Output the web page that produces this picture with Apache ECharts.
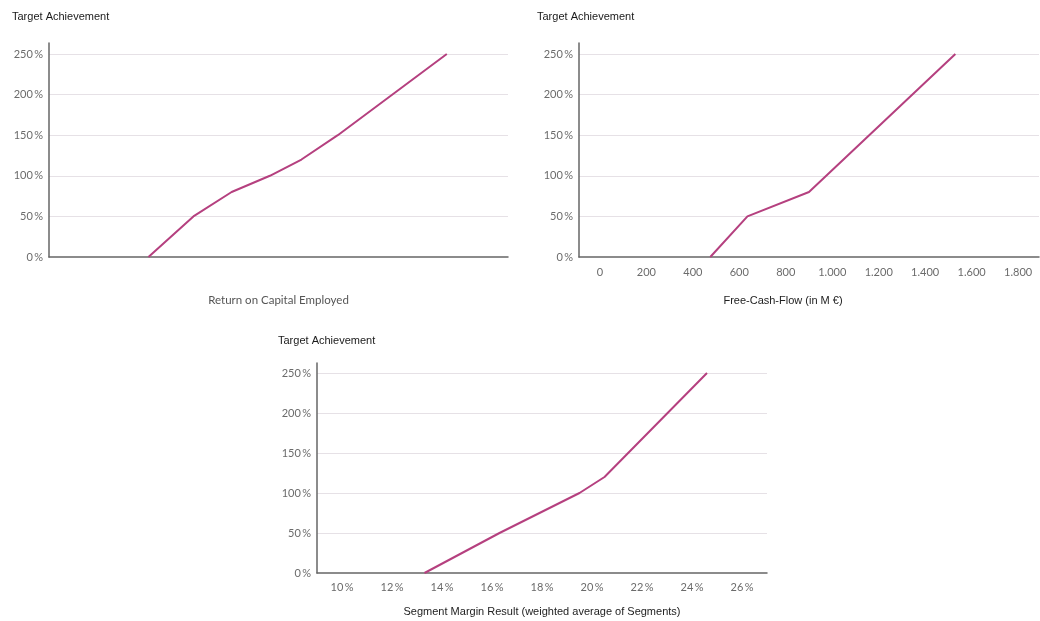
<!DOCTYPE html>
<html>
<head>
<meta charset="utf-8">
<script src="https://cdn.jsdelivr.net/npm/echarts@6/dist/echarts.min.js"></script>
<style>
  html, body { margin: 0; padding: 0; background: #fff; }
  #chart { width: 1040px; height: 621px; }
</style>
</head>
<body>
<div id="chart"></div>
<script>
// Return on Capital Employed (in %) -> target achievement (in %)
const roceX = [5.2, 7.55, 9.55, 11.55, 13.2, 15.1, 20.8];
const roceY = [0, 50, 80, 100, 120, 150, 250];

// Free-Cash-Flow (in M EUR) -> target achievement (in %)
const fcfX = [475, 635, 900, 1530];
const fcfY = [0, 50, 80, 250];
const fcfTicks = [0, 200, 400, 600, 800, 1000, 1200, 1400, 1600, 1800];

// Segment margin (weighted, in %) -> target achievement (in %)
const smX = [13.3, 16.3, 19.5, 20.5, 24.6];
const smY = [0, 50, 100, 120, 250];
const smTicks = [10, 12, 14, 16, 18, 20, 22, 24, 26];

const yTicks = [0, 50, 100, 150, 200, 250];

const LINE = '#b5407f';
const AXIS = '#666666';
const GRID = '#e6e1e6';
const LABEL = '#6b6b6b';

const pairs = (xs, ys) => xs.map((x, i) => [x, ys[i]]);
const pct = v => v + '\u2009%';
const thousands = v => String(v).replace(/\B(?=(\d{3})+(?!\d))/g, '.');

function yAxis(gridIndex, max) {
  return {
    type: 'value', gridIndex, min: 0, max, interval: 50,
    axisLine: { show: true, onZero: false, lineStyle: { color: AXIS, width: 1.5 } },
    axisTick: { show: false },
    axisLabel: {
      color: LABEL, fontFamily: 'Lato', fontSize: 11, margin: 6,
      formatter: v => (yTicks.includes(v) ? pct(v) : ''),
      showMaxLabel: false
    },
    splitLine: { show: true, showMaxLine: false, showMinLine: false, lineStyle: { color: GRID, width: 1 } }
  };
}

const titleStyle = { fontFamily: 'Liberation Sans', fontSize: 11, fontWeight: 'normal', color: '#1a1a1a' };

const option = {
  animation: false,
  backgroundColor: '#ffffff',
  title: [
    { text: 'Target Achievement', left: 12, top: 11, padding: 0, textStyle: titleStyle },
    { text: 'Target Achievement', left: 537, top: 11, padding: 0, textStyle: titleStyle },
    { text: 'Target Achievement', left: 278, top: 335, padding: 0, textStyle: titleStyle }
  ],
  grid: [
    { left: 49, top: 43, right: 532, bottom: 364 },
    { left: 579, top: 43, right: 1, bottom: 364 },
    { left: 317, top: 363, right: 273, bottom: 48 }
  ],
  xAxis: [
    {
      type: 'value', gridIndex: 0, min: 0, max: 24,
      name: 'Return on Capital Employed', nameLocation: 'middle', nameGap: 37,
      nameTextStyle: { fontFamily: 'Lato', fontSize: 11.5, color: '#555555' },
      axisLine: { show: true, onZero: false, lineStyle: { color: AXIS, width: 1.5 } },
      axisTick: { show: false }, axisLabel: { show: false }, splitLine: { show: false }
    },
    {
      type: 'value', gridIndex: 1, min: -90, max: 1890, interval: 10,
      name: 'Free-Cash-Flow (in M \u20ac)', nameLocation: 'middle', nameGap: 38,
      nameTextStyle: { fontFamily: 'Liberation Sans', fontSize: 11, color: '#222222', padding: [0, 52, 0, 0] },
      axisLine: { show: true, onZero: false, lineStyle: { color: AXIS, width: 1.5 } },
      axisTick: { show: false },
      axisLabel: {
        color: LABEL, fontFamily: 'Lato', fontSize: 11, margin: 10,
        formatter: v => (fcfTicks.includes(v) ? thousands(v) : ''),
        showMinLabel: false, showMaxLabel: false
      },
      splitLine: { show: false }
    },
    {
      type: 'value', gridIndex: 2, min: 9, max: 27, interval: 1,
      name: 'Segment Margin Result (weighted average of Segments)', nameLocation: 'middle', nameGap: 33,
      nameTextStyle: { fontFamily: 'Liberation Sans', fontSize: 11, color: '#222222' },
      axisLine: { show: true, onZero: false, lineStyle: { color: AXIS, width: 1.5 } },
      axisTick: { show: false },
      axisLabel: {
        color: LABEL, fontFamily: 'Lato', fontSize: 11, margin: 9,
        formatter: v => (smTicks.includes(v) ? pct(v) : ''),
        showMinLabel: false, showMaxLabel: false
      },
      splitLine: { show: false }
    }
  ],
  yAxis: [yAxis(0, 263.5), yAxis(1, 263.5), yAxis(2, 262.5)],
  series: [
    { type: 'line', xAxisIndex: 0, yAxisIndex: 0, data: pairs(roceX, roceY), showSymbol: false, lineStyle: { color: LINE, width: 2 } },
    { type: 'line', xAxisIndex: 1, yAxisIndex: 1, data: pairs(fcfX, fcfY), showSymbol: false, lineStyle: { color: LINE, width: 2 } },
    { type: 'line', xAxisIndex: 2, yAxisIndex: 2, data: pairs(smX, smY), showSymbol: false, lineStyle: { color: LINE, width: 2 } }
  ]
};

const chart = echarts.init(document.getElementById('chart'), null, { renderer: 'canvas' });
chart.setOption(option);
</script>
</body>
</html>
